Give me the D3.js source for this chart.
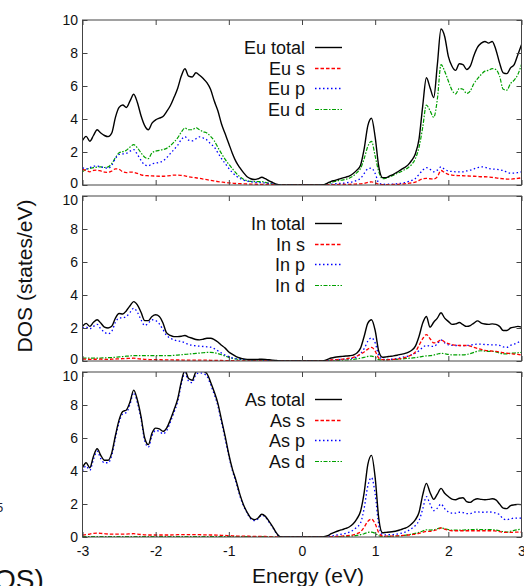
<!DOCTYPE html>
<html>
<head>
<meta charset="utf-8">
<script src="https://cdn.jsdelivr.net/npm/d3@7"></script>
<style>
  body { margin: 0; background: #fff; }
  svg { display: block; }
  text { font-family: "Liberation Sans", Arial, sans-serif; }
</style>
</head>
<body>
<script>
// energy grid, -3 .. 3 eV in 0.05 steps
const energy = d3.range(121).map(i => +(-3 + i * 0.05).toFixed(2))

const xTicks = [-3, -2, -1, 0, 1, 2, 3]
const yTicks = [0, 2, 4, 6, 8, 10]

// Eu
const euTotal = [2.7,2.95,2.65,3.0,3.35,3.15,3.0,2.93,3.15,4.1,
  4.7,4.85,4.7,5.1,5.5,5.0,4.2,3.6,3.35,3.75,
  3.95,4.05,4.15,4.45,4.8,5.3,5.85,6.6,7.05,6.6,
  6.55,6.8,6.65,6.45,6.2,5.8,5.1,4.5,3.7,3.1,
  2.5,1.9,1.4,1.05,0.75,0.5,0.38,0.33,0.38,0.47,
  0.38,0.25,0.15,0.05,0,0,0,0,0,0,
  0,0,0,0,0,0,0.02,0.12,0.22,0.28,
  0.35,0.42,0.48,0.55,0.7,0.9,1.2,2.2,3.6,4.05,
  2.9,1.1,0.45,0.45,0.55,0.65,0.78,0.92,1.05,1.22,
  1.5,1.9,2.8,4.8,6.5,5.9,5.3,7.3,9.45,9.0,
  7.8,7.2,6.95,7.35,7.3,7.0,7.2,7.85,8.35,8.6,
  8.7,8.6,8.7,8.2,7.4,6.8,6.75,7.1,7.3,7.9,8.5]
const euS = [0.95,0.88,0.8,0.88,0.9,0.85,0.78,0.77,0.85,0.98,
  0.95,0.8,0.75,0.78,0.77,0.7,0.62,0.57,0.56,0.55,
  0.54,0.53,0.53,0.55,0.57,0.6,0.6,0.58,0.55,0.5,
  0.46,0.44,0.4,0.36,0.32,0.28,0.25,0.21,0.18,0.15,
  0.13,0.11,0.09,0.08,0.07,0.06,0.05,0.05,0.04,0.04,
  0.04,0.03,0.02,0.01,0,0,0,0,0,0,
  0,0,0,0,0,0,0,0.01,0.02,0.02,
  0.03,0.03,0.04,0.04,0.05,0.06,0.07,0.1,0.16,0.19,
  0.12,0.05,0.02,0.02,0.02,0.03,0.04,0.05,0.07,0.1,
  0.13,0.18,0.28,0.38,0.4,0.38,0.36,0.5,0.88,0.75,
  0.65,0.6,0.58,0.57,0.56,0.55,0.54,0.53,0.52,0.5,
  0.5,0.48,0.46,0.43,0.4,0.38,0.36,0.36,0.38,0.4,0.44]
const euP = [1.05,0.97,1.05,1.15,1.15,1.1,1.05,1.01,1.2,1.6,
  1.85,1.88,1.92,2.05,2.15,1.85,1.5,1.22,1.17,1.28,
  1.32,1.38,1.45,1.65,1.9,2.15,2.4,2.75,2.93,2.72,
  2.68,2.8,2.92,2.85,2.73,2.5,2.3,1.95,1.6,1.3,
  1.0,0.75,0.55,0.4,0.3,0.24,0.2,0.16,0.15,0.14,
  0.12,0.09,0.06,0.02,0,0,0,0,0,0,
  0,0,0,0,0,0,0,0.02,0.05,0.07,
  0.09,0.1,0.13,0.16,0.2,0.28,0.4,0.7,0.98,1.02,
  0.7,0.12,0.05,0.04,0.05,0.06,0.08,0.1,0.14,0.2,
  0.28,0.4,0.65,0.9,1.05,0.95,0.8,0.9,1.1,0.95,
  0.85,0.82,0.8,0.8,0.8,0.85,0.9,0.98,1.05,1.1,
  1.08,1.0,0.97,0.95,0.92,0.88,0.78,0.72,0.72,0.75,0.8]
const euD = [0.8,0.95,1.0,1.05,1.08,1.1,1.06,1.1,1.3,1.65,
  1.95,2.02,2.1,2.3,2.45,2.25,1.95,1.68,1.6,1.95,
  2.05,2.1,2.15,2.22,2.38,2.6,2.85,3.2,3.45,3.35,
  3.35,3.47,3.35,3.23,3.15,2.95,2.68,2.28,1.9,1.55,
  1.25,0.98,0.72,0.5,0.35,0.26,0.22,0.2,0.2,0.2,
  0.16,0.1,0.06,0.02,0,0,0,0,0,0,
  0,0,0,0,0,0,0.02,0.06,0.15,0.22,
  0.27,0.3,0.35,0.42,0.55,0.75,1.0,1.6,2.35,2.65,
  1.75,0.8,0.38,0.42,0.5,0.6,0.7,0.8,0.92,1.05,
  1.25,1.6,2.3,3.5,4.85,4.5,4.1,5.2,7.3,6.9,
  6.3,5.75,5.52,5.85,5.8,5.55,5.7,6.15,6.45,6.7,
  6.9,6.95,7.05,7.0,6.6,5.8,5.75,6.15,6.35,6.7,7.3]

// In
const inTotal = [2.1,2.28,2.1,2.35,2.5,2.3,2.05,2.0,2.1,2.6,
  2.88,2.85,3.05,3.35,3.6,3.4,2.95,2.45,2.45,2.7,
  2.8,2.7,2.3,1.7,1.55,1.48,1.48,1.5,1.55,1.45,
  1.38,1.3,1.28,1.32,1.38,1.38,1.3,1.15,0.95,0.78,
  0.55,0.4,0.27,0.18,0.13,0.1,0.09,0.09,0.1,0.11,
  0.1,0.08,0.05,0.03,0.01,0,0,0,0,0,
  0,0,0,0,0,0,0.02,0.1,0.18,0.23,
  0.26,0.28,0.3,0.32,0.36,0.48,0.78,1.5,2.3,2.5,
  1.85,0.58,0.23,0.25,0.28,0.31,0.35,0.4,0.45,0.52,
  0.65,0.9,1.5,2.3,2.7,2.05,2.35,2.6,2.92,2.6,
  2.4,2.22,2.25,2.33,2.2,2.1,2.15,2.3,2.43,2.3,
  2.24,2.22,2.25,2.22,2.1,1.85,1.85,2.0,2.05,2.1,2.05]
const inS = [0.11,0.11,0.1,0.1,0.11,0.11,0.1,0.1,0.11,0.12,
  0.13,0.14,0.15,0.16,0.17,0.15,0.12,0.1,0.09,0.08,
  0.08,0.08,0.07,0.07,0.07,0.06,0.06,0.06,0.05,0.05,
  0.05,0.05,0.05,0.05,0.05,0.04,0.04,0.03,0.03,0.02,
  0.02,0.02,0.01,0.01,0.01,0.01,0.01,0.01,0.01,0.01,
  0.01,0.01,0,0,0,0,0,0,0,0,
  0,0,0,0,0,0,0.01,0.04,0.06,0.07,
  0.09,0.11,0.13,0.17,0.22,0.3,0.42,0.55,0.72,0.82,
  0.6,0.17,0.08,0.07,0.08,0.1,0.12,0.15,0.2,0.28,
  0.38,0.55,0.95,1.35,1.6,1.35,1.1,1.15,1.28,1.15,
  1.05,1.0,0.96,0.94,0.94,0.94,0.9,0.82,0.76,0.7,
  0.65,0.62,0.6,0.58,0.55,0.5,0.47,0.45,0.42,0.4,0.37]
const inP = [2.0,2.05,1.95,2.1,2.22,1.95,1.75,1.65,1.8,2.35,
  2.6,2.62,2.7,2.95,3.2,2.95,2.5,2.15,2.3,2.5,
  2.45,2.25,1.9,1.55,1.38,1.28,1.22,1.18,1.1,1.0,
  0.95,0.92,0.9,0.88,0.86,0.84,0.75,0.62,0.48,0.36,
  0.26,0.19,0.14,0.11,0.09,0.07,0.07,0.06,0.05,0.04,
  0.03,0.02,0.01,0,0,0,0,0,0,0,
  0,0,0,0,0,0,0.01,0.03,0.05,0.07,
  0.08,0.1,0.12,0.14,0.17,0.25,0.45,0.75,1.2,1.4,
  1.1,0.33,0.1,0.09,0.1,0.12,0.15,0.2,0.25,0.3,
  0.38,0.48,0.62,0.82,0.94,0.9,0.88,1.05,1.28,1.1,
  0.98,0.95,0.94,0.94,0.93,0.94,0.96,1.0,1.02,1.02,
  1.0,0.99,0.98,0.98,0.95,0.85,0.83,0.95,1.02,1.12,1.22]
const inD = [0.17,0.17,0.17,0.17,0.17,0.18,0.19,0.2,0.21,0.23,
  0.25,0.27,0.29,0.31,0.33,0.33,0.32,0.32,0.33,0.33,
  0.33,0.33,0.33,0.33,0.33,0.34,0.36,0.38,0.4,0.42,
  0.44,0.46,0.48,0.5,0.52,0.52,0.5,0.45,0.38,0.3,
  0.22,0.16,0.12,0.09,0.07,0.06,0.05,0.05,0.05,0.05,
  0.04,0.03,0.02,0.01,0,0,0,0,0,0,
  0,0,0,0,0,0,0,0.01,0.02,0.03,
  0.04,0.05,0.06,0.08,0.1,0.13,0.17,0.22,0.28,0.3,
  0.22,0.08,0.06,0.07,0.08,0.09,0.1,0.12,0.14,0.16,
  0.18,0.2,0.24,0.28,0.31,0.32,0.36,0.42,0.47,0.44,
  0.4,0.37,0.37,0.37,0.37,0.4,0.45,0.52,0.6,0.62,
  0.6,0.58,0.58,0.55,0.48,0.43,0.43,0.47,0.48,0.5,0.52]

// As
const asTotal = [4.2,4.5,4.2,4.9,5.35,4.95,4.65,4.65,5.1,6.15,
  7.1,7.6,7.7,8.2,8.9,8.3,7.3,6.0,5.6,6.3,
  6.6,6.55,6.4,6.6,7.1,7.7,8.35,9.4,10.1,9.6,
  9.5,10.0,10.1,10.05,9.9,9.4,8.8,8.1,7.1,6.1,
  5.0,4.1,3.4,2.6,1.96,1.5,1.15,1.05,1.15,1.38,
  1.25,0.95,0.62,0.25,0.02,0,0,0,0,0,
  0,0,0,0,0,0,0.02,0.08,0.2,0.3,
  0.38,0.45,0.52,0.62,0.8,1.1,1.56,2.7,4.4,4.95,
  3.6,1.1,0.26,0.28,0.3,0.33,0.38,0.45,0.52,0.62,
  0.8,1.05,1.5,2.55,3.25,2.7,2.28,2.6,2.95,2.65,
  2.45,2.3,2.26,2.35,2.38,2.15,2.1,2.25,2.32,2.28,
  2.26,2.28,2.32,2.25,2.0,1.75,1.72,1.9,1.95,1.98,1.96]
const asS = [0.12,0.15,0.18,0.22,0.24,0.22,0.2,0.18,0.17,0.17,
  0.17,0.18,0.18,0.19,0.2,0.18,0.15,0.13,0.12,0.12,
  0.12,0.12,0.12,0.12,0.12,0.13,0.14,0.15,0.15,0.14,
  0.14,0.14,0.14,0.13,0.13,0.12,0.12,0.11,0.1,0.09,
  0.08,0.07,0.06,0.05,0.05,0.05,0.04,0.04,0.04,0.04,
  0.03,0.02,0.01,0,0,0,0,0,0,0,
  0,0,0,0,0,0,0,0.01,0.02,0.03,
  0.04,0.05,0.07,0.09,0.13,0.2,0.32,0.6,0.95,1.08,
  0.8,0.25,0.06,0.05,0.05,0.06,0.07,0.08,0.1,0.12,
  0.15,0.18,0.22,0.28,0.34,0.34,0.38,0.45,0.55,0.48,
  0.42,0.38,0.38,0.38,0.38,0.38,0.38,0.38,0.38,0.38,
  0.38,0.38,0.38,0.36,0.33,0.29,0.28,0.28,0.29,0.3,0.3]
const asP = [4.0,4.3,4.05,4.7,5.2,4.75,4.5,4.5,4.95,6.0,
  6.95,7.45,7.55,8.05,8.75,8.15,7.15,5.85,5.45,6.15,
  6.45,6.4,6.25,6.45,6.95,7.55,8.2,9.25,9.95,9.45,
  9.35,9.85,9.95,9.9,9.75,9.25,8.65,7.95,6.95,5.95,
  4.9,4.0,3.3,2.5,1.9,1.45,1.1,1.0,1.1,1.33,
  1.2,0.9,0.58,0.22,0.01,0,0,0,0,0,
  0,0,0,0,0,0,0.01,0.03,0.06,0.1,
  0.14,0.18,0.22,0.3,0.42,0.6,0.85,1.75,3.1,3.6,
  2.6,0.7,0.14,0.13,0.14,0.15,0.18,0.22,0.28,0.38,
  0.52,0.7,1.0,1.7,2.45,2.0,1.6,1.75,2.0,1.72,
  1.52,1.45,1.45,1.5,1.48,1.42,1.42,1.5,1.52,1.5,
  1.5,1.52,1.5,1.45,1.35,1.1,1.05,1.1,1.15,1.15,1.15]
const asD = [0.03,0.03,0.03,0.03,0.03,0.03,0.03,0.03,0.03,0.03,
  0.03,0.03,0.03,0.03,0.03,0.03,0.03,0.03,0.03,0.03,
  0.03,0.03,0.03,0.03,0.03,0.03,0.03,0.03,0.03,0.03,
  0.03,0.03,0.03,0.03,0.03,0.03,0.03,0.03,0.03,0.03,
  0.03,0.02,0.02,0.02,0.02,0.02,0.02,0.02,0.02,0.02,
  0.02,0.01,0.01,0,0,0,0,0,0,0,
  0,0,0,0,0,0,0,0.01,0.01,0.02,
  0.02,0.03,0.04,0.05,0.07,0.1,0.14,0.2,0.28,0.3,
  0.22,0.08,0.03,0.03,0.04,0.05,0.06,0.08,0.1,0.13,
  0.17,0.22,0.28,0.36,0.44,0.42,0.44,0.5,0.55,0.5,
  0.45,0.42,0.42,0.42,0.42,0.44,0.45,0.45,0.46,0.45,
  0.45,0.45,0.44,0.42,0.38,0.32,0.3,0.35,0.4,0.44,0.48]

const panels = [
  {labels: ["Eu total", "Eu s", "Eu p", "Eu d"], series: [euTotal, euS, euP, euD]},
  {labels: ["In total", "In s", "In p", "In d"], series: [inTotal, inS, inP, inD]},
  {labels: ["As total", "As s", "As p", "As d"], series: [asTotal, asS, asP, asD]}
]

// line styles: total, s, p, d
const styles = [
  {color: "#000000", width: 1.4, dash: null},
  {color: "#ff0000", width: 1.3, dash: "3.5,2"},
  {color: "#0000ff", width: 1.3, dash: "1.5,2.5"},
  {color: "#00a000", width: 1.2, dash: "4,1.5,1.5,1.5"}
]

const W = 524, H = 586
const plotLeft = 82.5, plotRight = 521.5
const panelTop = [20, 196, 372], panelH = 165

const svg = d3.select("body").append("svg")
  .attr("width", W).attr("height", H)

const x = d3.scaleLinear().domain([-3, 3]).range([plotLeft, plotRight])

panels.forEach((p, k) => {
  const top = panelTop[k]
  const y = d3.scaleLinear().domain([0, 10]).range([top + panelH, top])
  const g = svg.append("g")

  g.append("clipPath").attr("id", "clip" + k)
    .append("rect")
    .attr("x", plotLeft).attr("y", top)
    .attr("width", plotRight - plotLeft).attr("height", panelH)

  const line = d3.line()
    .x((d, i) => x(energy[i]))
    .y(d => y(d))
    .curve(d3.curveMonotoneX)

  // draw d, p, s first, total on top
  ;[3, 2, 1, 0].forEach(j => {
    g.append("path")
      .datum(p.series[j])
      .attr("clip-path", `url(#clip${k})`)
      .attr("d", line)
      .attr("fill", "none")
      .attr("stroke", styles[j].color)
      .attr("stroke-width", styles[j].width)
      .attr("stroke-dasharray", styles[j].dash)
      .attr("stroke-linejoin", "round")
  })

  // axes, ticks pointing in
  const left = g.append("g")
    .attr("transform", `translate(${plotLeft},0)`)
    .call(d3.axisLeft(y).tickValues(yTicks).tickSizeInner(-5).tickSizeOuter(0).tickPadding(4.5))
  const right = g.append("g")
    .attr("transform", `translate(${plotRight},0)`)
    .call(d3.axisRight(y).tickValues(yTicks).tickSizeInner(-5).tickSizeOuter(0).tickFormat(() => ""))
  const topAx = g.append("g")
    .attr("transform", `translate(0,${top})`)
    .call(d3.axisTop(x).tickValues(xTicks).tickSizeInner(-5).tickSizeOuter(0).tickFormat(() => ""))
  const bottom = g.append("g")
    .attr("transform", `translate(0,${top + panelH})`)
    .call(d3.axisBottom(x).tickValues(xTicks).tickSizeInner(-5).tickSizeOuter(0).tickPadding(9)
      .tickFormat(d => k === 2 ? (d < 0 ? "-" + Math.abs(d) : String(d)) : ""))

  ;[left, right, topAx, bottom].forEach(a => {
    a.select(".domain").remove()
    a.selectAll("line").attr("stroke", "#444")
    a.selectAll("text").attr("font-family", null).attr("font-size", 14).attr("fill", "#111")
  })
  // the stacked panels nudge their shared end labels apart
  left.selectAll("text").attr("y", d => (d === 10 && k > 0) ? 4 : (d === 0 && k < 2) ? -2 : 0)

  g.append("rect")
    .attr("x", plotLeft).attr("y", top)
    .attr("width", plotRight - plotLeft).attr("height", panelH)
    .attr("fill", "none").attr("stroke", "#444").attr("stroke-width", 1)

  // key
  p.labels.forEach((lab, j) => {
    const ly = Math.round(top + 27 + j * 20.5) + 0.5
    g.append("text")
      .attr("x", 305).attr("y", ly).attr("dy", "0.35em")
      .attr("text-anchor", "end").attr("font-size", 18).attr("fill", "#111")
      .text(lab)
    g.append("line")
      .attr("x1", 315).attr("x2", 342).attr("y1", ly).attr("y2", ly)
      .attr("stroke", styles[j].color)
      .attr("stroke-width", styles[j].width)
      .attr("stroke-dasharray", styles[j].dash)
  })
})

svg.append("text")
  .attr("transform", "translate(32,276) rotate(-90)")
  .attr("text-anchor", "middle").attr("font-size", 21).attr("fill", "#111")
  .text("DOS (states/eV)")

svg.append("text")
  .attr("x", 308).attr("y", 583)
  .attr("text-anchor", "middle").attr("font-size", 21).attr("fill", "#111")
  .text("Energy (eV)")

// cropped bits of the surrounding page
svg.append("text")
  .attr("x", -4).attr("y", 512).attr("font-size", 13).attr("fill", "#223")
  .text("5")
svg.append("text")
  .attr("x", -6).attr("y", 589)
  .attr("font-family", "'Liberation Serif', 'DejaVu Serif', serif")
  .attr("font-size", 28).attr("fill", "#111")
  .text("OS)")
</script>
</body>
</html>
